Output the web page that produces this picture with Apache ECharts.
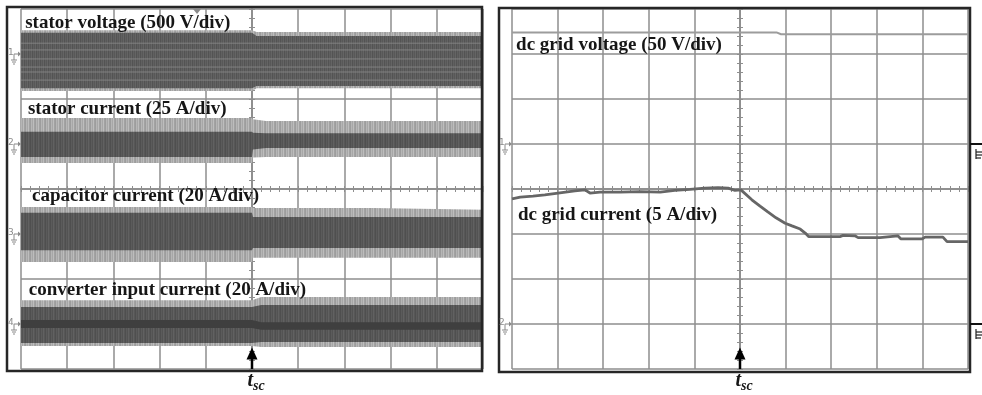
<!DOCTYPE html>
<html>
<head>
<meta charset="utf-8">
<script src="https://cdn.jsdelivr.net/npm/echarts@6/dist/echarts.min.js"></script>
<style>
  html, body { margin: 0; padding: 0; background: #ffffff; }
  #c { width: 982px; height: 395px; }
</style>
</head>
<body>
<div id="c"></div>
<script>
// Both screens: 10 horizontal divisions (time, 0 = fault instant t_sc), 8 vertical divisions.

// ---- left screen: envelopes of the switching waveforms, in divisions ----
// rows: [t, outer top, inner top, inner bottom, outer bottom]
const statorVoltage = [
  [-5, 3.53, 3.47, 2.24, 2.18],
  [0, 3.53, 3.47, 2.24, 2.18],
  [0.1, 3.49, 3.40, 2.29, 2.24],
  [5, 3.49, 3.40, 2.29, 2.24]
];
const statorVoltageStripes = [3.24, 3.09, 2.89, 2.71, 2.60, 2.42];

const statorCurrent = [
  [-5, 1.58, 1.27, 0.71, 0.58],
  [0, 1.58, 1.27, 0.71, 0.58],
  [0.02, 1.55, 1.25, 0.88, 0.70],
  [0.3, 1.51, 1.24, 0.91, 0.71],
  [5, 1.51, 1.24, 0.91, 0.71]
];

const capacitorCurrent = [
  [-5, -0.40, -0.53, -1.36, -1.62],
  [0, -0.40, -0.53, -1.36, -1.62],
  [0.02, -0.42, -0.62, -1.31, -1.53],
  [2.6, -0.42, -0.62, -1.31, -1.53],
  [5, -0.46, -0.62, -1.31, -1.53]
];

const converterCurrent = [
  [-5, -2.47, -2.62, -3.42, -3.49],
  [0, -2.47, -2.62, -3.42, -3.49],
  [0.2, -2.40, -2.58, -3.40, -3.51],
  [5, -2.40, -2.58, -3.40, -3.51]
];
// darker core of the converter input current: [t, top, bottom]
const converterCore = [
  [-5, -2.91, -3.09],
  [0, -2.91, -3.09],
  [0.2, -2.96, -3.13],
  [5, -2.96, -3.13]
];

// ---- right screen: dc grid quantities, in divisions ----
const dcVoltageT = [-5, 0.8, 0.9, 5];
const dcVoltage = [3.48, 3.48, 3.44, 3.44];

const dcCurrentT = [-5.0, -4.82, -4.54, -4.28, -3.99, -3.62, -3.40, -3.29, -3.07, -2.63, -2.19, -1.75, -1.43, -1.10, -0.77, -0.48, -0.26, -0.11, 0.02,
  0.26, 0.44, 0.61, 0.79, 0.99, 1.14, 1.32, 1.43, 1.51, 2.19, 2.26, 2.52, 2.59, 3.07, 3.11, 3.46, 3.53, 3.99, 4.06, 4.45, 4.54, 5.0];
const dcCurrent = [-0.22, -0.18, -0.16, -0.13, -0.09, -0.04, -0.02, -0.09, -0.07, -0.07, -0.06, -0.07, -0.03, -0.01, 0.02, 0.03, 0.02, -0.03, -0.02,
  -0.24, -0.38, -0.51, -0.64, -0.76, -0.82, -0.89, -0.98, -1.06, -1.06, -1.03, -1.04, -1.08, -1.08, -1.04, -1.04, -1.11, -1.11, -1.07, -1.07, -1.17, -1.17];

const GRID = '#8e8e8e';
const INK = '#161616';
const LABEL_FONT = '"Liberation Serif", "Times New Roman", serif';

function pattern(cols) {
  const c = document.createElement('canvas');
  c.width = cols.length; c.height = 2;
  const g = c.getContext('2d');
  cols.forEach((col, i) => { g.fillStyle = col; g.fillRect(i, 0, 1, 2); });
  return { image: c, repeat: 'repeat' };
}
const lightFill = pattern(['#9d9d9d', '#b6b6b6', '#a7a7a7', '#bdbdbd', '#a2a2a2']);
const darkFill = pattern(['#4f4f4f', '#5b5b5b', '#535353', '#616161', '#575757']);
const voltFill = pattern(['#535353', '#606060', '#585858', '#646464']);

function bandRenderer(rows, extra) {
  return function (params, api) {
    const edge = (k) => rows.map(r => api.coord([r[0], r[k]]));
    const oT = edge(1), iT = edge(2), iB = edge(3), oB = edge(4);
    const poly = (a, b, fill) => ({
      type: 'polygon',
      shape: { points: a.concat(b.slice().reverse()) },
      style: { fill: fill }
    });
    const children = [
      poly(oT, oB, lightFill),
      poly(iT, iB, extra && extra.fill ? extra.fill : darkFill)
    ];
    if (extra && extra.core) {
      const cT = extra.core.map(r => api.coord([r[0], r[1]]));
      const cB = extra.core.map(r => api.coord([r[0], r[2]]));
      children.push(poly(cT, cB, '#3f3f3f'));
    }
    if (extra && extra.stripes) {
      extra.stripes.forEach(v => {
        const a = api.coord([-5, v]), b = api.coord([5, v]);
        children.push({
          type: 'line',
          shape: { x1: a[0], y1: a[1], x2: b[0], y2: b[1] },
          style: { stroke: '#8f8f8f', lineWidth: 1, opacity: 0.75 }
        });
      });
    }
    return { type: 'group', children: children };
  };
}

function axesFor(grid) {
  const tick = { show: true, length: 3, lineStyle: { color: GRID, width: 1 } };
  const minor = { show: true, splitNumber: 5, length: 3, lineStyle: { color: GRID, width: 1 } };
  const line = { show: true, onZero: true, lineStyle: { color: GRID, width: 1.5 } };
  const split = { show: true, lineStyle: { color: GRID, width: 1.5 } };
  const x = (pos, withSplit) => ({
    gridIndex: grid, type: 'value', min: -5, max: 5, interval: 1, position: pos,
    axisLine: line, axisTick: tick, minorTick: minor, axisLabel: { show: false },
    splitLine: withSplit ? split : { show: false }
  });
  const y = (pos, withSplit) => ({
    gridIndex: grid, type: 'value', min: -4, max: 4, interval: 1, position: pos,
    axisLine: line, axisTick: tick, minorTick: minor, axisLabel: { show: false },
    splitLine: withSplit ? split : { show: false }
  });
  return { x: [x('bottom', true), x('top', false)], y: [y('left', true), y('right', false)] };
}
const axL = axesFor(0), axR = axesFor(1);

const bandSeries = (rows, extra) => ({
  type: 'custom', xAxisIndex: 0, yAxisIndex: 0, silent: true, z: 3,
  data: [[0, 0]], renderItem: bandRenderer(rows, extra)
});

const chart = echarts.init(document.getElementById('c'), null, { renderer: 'canvas' });
chart.setOption({
  animation: false,
  backgroundColor: '#ffffff',
  grid: [
    { left: 21, top: 9, width: 462, height: 360 },
    { left: 512, top: 9, width: 456, height: 360 }
  ],
  xAxis: axL.x.concat(axR.x),
  yAxis: axL.y.concat(axR.y),
  series: [
    bandSeries(statorVoltage, { fill: voltFill, stripes: statorVoltageStripes }),
    bandSeries(statorCurrent),
    bandSeries(capacitorCurrent),
    bandSeries(converterCurrent, { core: converterCore }),
    {
      type: 'line', xAxisIndex: 2, yAxisIndex: 2, showSymbol: false, silent: true, z: 3,
      lineStyle: { color: '#9c9c9c', width: 2 },
      data: dcVoltageT.map((t, i) => [t, dcVoltage[i]])
    },
    {
      type: 'line', xAxisIndex: 2, yAxisIndex: 2, showSymbol: false, silent: true, z: 4,
      lineStyle: { color: '#666666', width: 2.8 },
      data: dcCurrentT.map((t, i) => [t, dcCurrent[i]])
    }
  ]
});

// ---- annotations placed through the axes ----
const px = (g, t, v) => chart.convertToPixel({ gridIndex: g }, [t, v]);

function label(g, t, v, text) {
  const p = px(g, t, v);
  return {
    type: 'text', x: p[0], y: p[1], z: 100,
    style: { text: text, fill: INK, font: 'bold 19px ' + LABEL_FONT, verticalAlign: 'middle', align: 'left' }
  };
}

function tscMark(g) {
  const base = px(g, 0, -4), head = px(g, 0, -3.52);
  const x = base[0];
  return [
    { type: 'line', z: 100, shape: { x1: x, y1: base[1], x2: x, y2: head[1] + 10 }, style: { stroke: '#000', lineWidth: 2.5 } },
    { type: 'polygon', z: 100, shape: { points: [[x, head[1]], [x - 5.5, head[1] + 12], [x + 5.5, head[1] + 12]] }, style: { fill: '#000' } },
    { type: 'text', z: 100, x: x + 1, y: base[1] + 12, style: { text: 't', fill: INK, font: 'italic bold 20px ' + LABEL_FONT, align: 'right', verticalAlign: 'middle' } },
    { type: 'text', z: 100, x: x + 1, y: base[1] + 17, style: { text: 'sc', fill: INK, font: 'italic bold 14px ' + LABEL_FONT, align: 'left', verticalAlign: 'middle' } }
  ];
}

function channelMark(g, v, num) {
  const p = px(g, -5, v);
  const x = p[0] - 12, y = p[1];
  const c = '#8a8a8a';
  return [
    { type: 'text', z: 100, x: x - 1, y: y - 1, style: { text: num, fill: c, font: '9px "DejaVu Sans"', align: 'left', verticalAlign: 'middle' } },
    { type: 'polygon', z: 100, shape: { points: [[x + 9, y - 2.5], [x + 12, y], [x + 9, y + 2.5]] }, style: { fill: c } },
    { type: 'line', z: 100, shape: { x1: x + 5, y1: y, x2: x + 9, y2: y }, style: { stroke: c, lineWidth: 1 } },
    { type: 'line', z: 100, shape: { x1: x + 5, y1: y, x2: x + 5, y2: y + 6 }, style: { stroke: c, lineWidth: 1 } },
    { type: 'line', z: 100, shape: { x1: x + 2, y1: y + 6, x2: x + 8, y2: y + 6 }, style: { stroke: c, lineWidth: 1 } },
    { type: 'line', z: 100, shape: { x1: x + 3, y1: y + 8, x2: x + 7, y2: y + 8 }, style: { stroke: c, lineWidth: 1 } },
    { type: 'line', z: 100, shape: { x1: x + 4, y1: y + 10, x2: x + 6, y2: y + 10 }, style: { stroke: c, lineWidth: 1 } }
  ];
}

function groundMark(g, v) {
  const p = px(g, 5, v);
  const x = p[0] + 2, y = p[1];
  return [
    { type: 'line', z: 100, shape: { x1: x, y1: y, x2: 982, y2: y }, style: { stroke: '#111', lineWidth: 2 } },
    { type: 'line', z: 100, shape: { x1: x + 6, y1: y + 5, x2: x + 6, y2: y + 15 }, style: { stroke: '#222', lineWidth: 1.2 } },
    { type: 'line', z: 100, shape: { x1: x + 6, y1: y + 8, x2: x + 13, y2: y + 8 }, style: { stroke: '#222', lineWidth: 1.2 } },
    { type: 'line', z: 100, shape: { x1: x + 6, y1: y + 11, x2: x + 12, y2: y + 11 }, style: { stroke: '#222', lineWidth: 1.2 } },
    { type: 'line', z: 100, shape: { x1: x + 6, y1: y + 14, x2: x + 11, y2: y + 14 }, style: { stroke: '#222', lineWidth: 1.2 } }
  ];
}

const trig = px(0, -1.19, 4);
const graphics = [
  // scope screen frames
  { type: 'rect', z: 90, shape: { x: 7, y: 7, width: 475, height: 364 }, style: { fill: 'none', stroke: '#262626', lineWidth: 2.5 } },
  { type: 'rect', z: 90, shape: { x: 499, y: 8, width: 471, height: 364 }, style: { fill: 'none', stroke: '#262626', lineWidth: 2.5 } },
  // trigger position marker
  { type: 'polygon', z: 95, shape: { points: [[trig[0] - 4, trig[1]], [trig[0] + 4, trig[1]], [trig[0], trig[1] + 5]] }, style: { fill: '#8a8a8a' } },
  label(0, -4.91, 3.69, 'stator voltage (500 V/div)'),
  label(0, -4.85, 1.78, 'stator current (25 A/div)'),
  label(0, -4.76, -0.16, 'capacitor current (20 A/div)'),
  label(0, -4.83, -2.24, 'converter input current (20 A/div)'),
  label(1, -4.91, 3.2, 'dc grid voltage (50 V/div)'),
  label(1, -4.87, -0.58, 'dc grid current (5 A/div)')
].concat(
  tscMark(0), tscMark(1),
  channelMark(0, 3, '1'), channelMark(0, 1, '2'), channelMark(0, -1, '3'), channelMark(0, -3, '4'),
  channelMark(1, 1, '1'), channelMark(1, -3, '2'),
  groundMark(1, 1), groundMark(1, -3)
);
chart.setOption({ graphic: graphics });
</script>
</body>
</html>
